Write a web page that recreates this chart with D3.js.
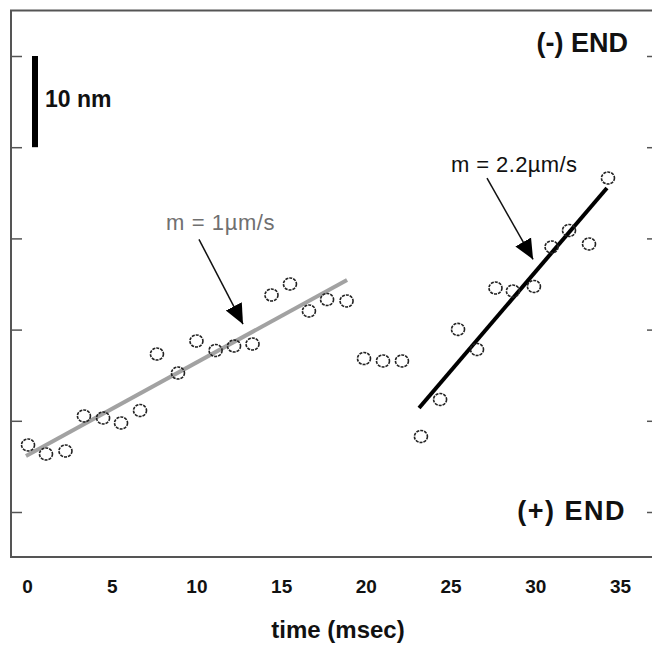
<!DOCTYPE html>
<html>
<head>
<meta charset="utf-8">
<script src="https://cdn.jsdelivr.net/npm/d3@7"></script>
<style>
  html, body { margin: 0; padding: 0; background: #fff; }
  svg { display: block; }
  text { font-family: Arial, "Liberation Sans", Helvetica, sans-serif; }
</style>
</head>
<body>
<svg id="chart" width="652" height="646"></svg>
<script>
// ---- data ----
const times = [0.06, 1.12, 2.27, 3.36, 4.49, 5.55, 6.67, 7.67, 8.91, 10.00, 11.13, 12.22, 13.31, 14.43, 15.52, 16.64,
               17.71, 18.86, 19.89, 21.01, 22.13, 23.25, 24.38, 25.44, 26.56, 27.65, 28.68, 29.92, 30.96, 31.99, 33.17, 34.29];
const positions = [7.35, 6.36, 6.69, 10.53, 10.31, 9.76, 11.13, 17.32, 15.24, 18.75, 17.71, 18.20, 18.42, 23.79, 25.00, 22.04,
                   23.30, 23.14, 16.83, 16.56, 16.56, 8.28, 12.34, 20.03, 17.82, 24.56, 24.23, 24.73, 29.06, 30.87, 29.39, 36.62];
const slowFit = [[-0.06, 6.14], [18.89, 25.44]];   // m = 1 µm/s
const fastFit = [[23.14, 11.40], [34.23, 35.53]];  // m = 2.2 µm/s
const xTicks = [0, 5, 10, 15, 20, 25, 30, 35];
const yTicks = [0, 10, 20, 30, 40, 50];
const scaleBar = [40, 50];  // 10 nm
const arrows = [
  { from: [10.15, 29.9], to: [12.75, 20.6] },
  { from: [27.15, 36.6], to: [29.87, 27.7] }
];

// ---- layout ----
const svg = d3.select("#chart");
const frame = { left: 11, top: 10.5, right: 653, bottom: 557 };
const x = d3.scaleLinear().domain([0, 35]).range([27, 620]);
const y = d3.scaleLinear().domain([0, 50]).range([512, 56]);

// frame
svg.append("rect")
  .attr("x", frame.left).attr("y", frame.top)
  .attr("width", frame.right - frame.left).attr("height", frame.bottom - frame.top)
  .attr("fill", "none").attr("stroke", "#555").attr("stroke-width", 2);

// left ticks (inward)
const leftAxis = d3.axisRight(y).tickValues(yTicks).tickSize(11).tickFormat("");
svg.append("g").attr("transform", `translate(${frame.left},0)`).call(leftAxis)
  .call(g => g.select(".domain").remove())
  .call(g => g.selectAll("line").attr("stroke", "#555").attr("stroke-width", 1.5));
// right ticks (inward)
const rightAxis = d3.axisLeft(y).tickValues(yTicks).tickSize(6).tickFormat("");
svg.append("g").attr("transform", `translate(${frame.right},0)`).call(rightAxis)
  .call(g => g.select(".domain").remove())
  .call(g => g.selectAll("line").attr("stroke", "#555").attr("stroke-width", 1.5));

// x tick labels
const bottomAxis = d3.axisBottom(x).tickValues(xTicks).tickSize(0).tickPadding(0);
svg.append("g").attr("transform", `translate(0,${frame.bottom})`).call(bottomAxis)
  .call(g => g.select(".domain").remove())
  .call(g => g.selectAll("text")
     .attr("dy", null).attr("y", 36)
     .attr("font-family", "Arial, 'Liberation Sans', sans-serif")
     .attr("font-size", 19).attr("font-weight", "bold").attr("fill", "#111"));

// axis title
svg.append("text").attr("x", 338).attr("y", 638)
  .attr("text-anchor", "middle").attr("font-size", 24).attr("font-weight", "bold").attr("fill", "#111")
  .text("time (msec)");

// scale bar
svg.append("line")
  .attr("x1", 35).attr("x2", 35)
  .attr("y1", y(scaleBar[1])).attr("y2", y(scaleBar[0]))
  .attr("stroke", "#000").attr("stroke-width", 6);
svg.append("text").attr("x", 45).attr("y", 107)
  .attr("font-size", 23).attr("font-weight", "bold").attr("fill", "#111").text("10 nm");

// end labels
svg.append("text").attr("x", 628).attr("y", 51.5).attr("text-anchor", "end")
  .attr("font-size", 27).attr("font-weight", "bold").attr("fill", "#111").text("(-) END");
svg.append("text").attr("x", 626).attr("y", 520).attr("text-anchor", "end")
  .attr("font-size", 27).attr("font-weight", "bold").attr("fill", "#111")
  .attr("letter-spacing", 1.5).text("(+) END");

// fit lines
const line = d3.line().x(d => x(d[0])).y(d => y(d[1]));
svg.append("path").datum(slowFit).attr("d", line)
  .attr("stroke", "#a2a2a2").attr("stroke-width", 4).attr("fill", "none");
svg.append("path").datum(fastFit).attr("d", line)
  .attr("stroke", "#000").attr("stroke-width", 4).attr("fill", "none");

// data points
svg.append("g").selectAll("ellipse").data(times.map((t, i) => [t, positions[i]]))
  .join("ellipse")
  .attr("cx", d => x(d[0])).attr("cy", d => y(d[1]))
  .attr("rx", 6.5).attr("ry", 6)
  .attr("fill", "none").attr("stroke", "#222").attr("stroke-width", 1.6)
  .attr("stroke-dasharray", "3,1");

// arrows
svg.append("defs").append("marker")
  .attr("id", "head").attr("viewBox", "0 0 20 20")
  .attr("refX", 20).attr("refY", 10)
  .attr("markerWidth", 20).attr("markerHeight", 20)
  .attr("markerUnits", "userSpaceOnUse")
  .attr("orient", "auto")
  .append("path").attr("d", "M0,1 L20,10 L0,19 Z").attr("fill", "#000");
svg.append("g").selectAll("line").data(arrows).join("line")
  .attr("x1", d => x(d.from[0])).attr("y1", d => y(d.from[1]))
  .attr("x2", d => x(d.to[0])).attr("y2", d => y(d.to[1]))
  .attr("stroke", "#111").attr("stroke-width", 1.5)
  .attr("marker-end", "url(#head)");

// slope labels
svg.append("text").attr("x", 166).attr("y", 230)
  .attr("font-size", 22).attr("letter-spacing", 0.6).attr("fill", "#707070").text("m = 1µm/s");
svg.append("text").attr("x", 451).attr("y", 171.5)
  .attr("font-size", 22).attr("letter-spacing", 0.4).attr("fill", "#111").text("m = 2.2µm/s");
</script>
</body>
</html>
